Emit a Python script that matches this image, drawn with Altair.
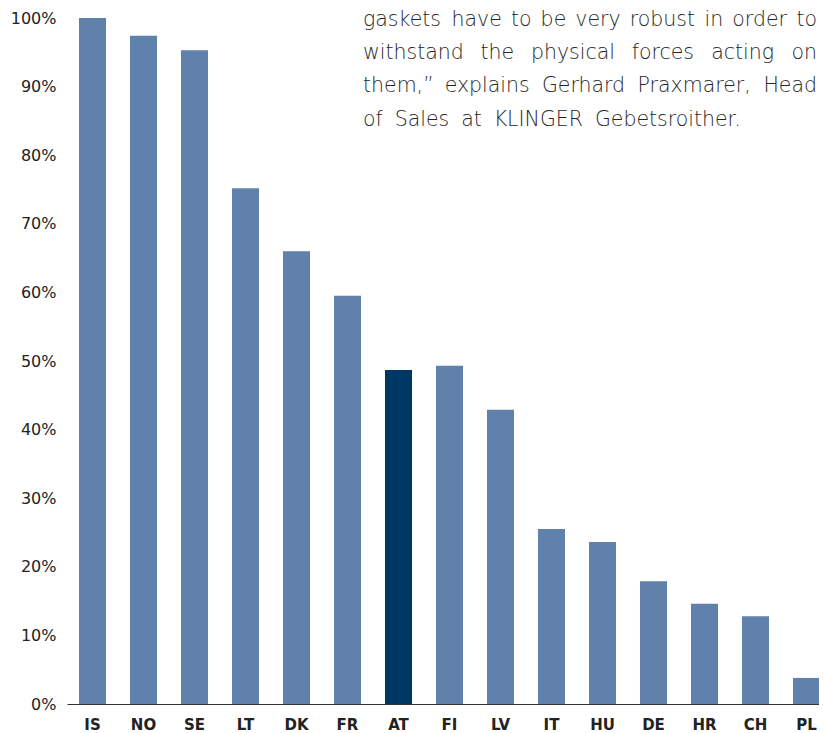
import altair as alt
import pandas as pd

countries = ["IS", "NO", "SE", "LT", "DK", "FR", "AT", "FI", "LV", "IT", "HU", "DE", "HR", "CH", "PL"]
shares = [100.0, 97.4, 95.3, 75.2, 66.0, 59.5, 48.7, 49.3, 42.9, 25.5, 23.6, 17.9, 14.6, 12.8, 3.8]
highlight = "AT"

# annotation text (quote fragment): justified lines, last line ragged
text_lines = [
    "gaskets have to be very robust in order to",
    "withstand the physical forces acting on",
    "them,\u201d explains Gerhard Praxmarer, Head",
    "of Sales at KLINGER Gebetsroither.",
]

# ---- layout of the annotation (page pixels) ----
PLOT_LEFT = 67
PLOT_TOP = 18
TEXT_LEFT = 363
line_right = [817, 817, 817, 743]
line_baseline = [26, 59, 92, 126]
FONT_SIZE = 20.5

# approximate DejaVu Sans advance widths (em) for justification
W = {
    'a': .613, 'b': .635, 'c': .550, 'd': .635, 'e': .615, 'f': .352, 'g': .635, 'h': .634,
    'i': .278, 'j': .278, 'k': .579, 'l': .278, 'm': .974, 'n': .634, 'o': .612, 'p': .635,
    'q': .635, 'r': .411, 's': .521, 't': .392, 'u': .634, 'v': .592, 'w': .818, 'x': .592,
    'y': .592, 'z': .525, ',': .318, '.': .318, '\u201d': .477,
    'G': .775, 'H': .752, 'K': .656, 'L': .557, 'I': .295, 'N': .748, 'E': .632, 'R': .695,
    'P': .603, 'S': .635,
}


def wwidth(word):
    return sum(W.get(ch, .6) for ch in word) * FONT_SIZE


rows = []
for line, base, right in zip(text_lines, line_baseline, line_right):
    words = line.split(" ")
    widths = [wwidth(w) for w in words]
    gap = (right - TEXT_LEFT - sum(widths)) / (len(words) - 1)
    xpos = TEXT_LEFT
    for w, wd in zip(words, widths):
        rows.append({"word": w, "px": xpos - PLOT_LEFT, "py": base - PLOT_TOP})
        xpos += wd + gap
ann = pd.DataFrame(rows)

df = pd.DataFrame({
    "country": countries,
    "share": [s / 100 for s in shares],
    "hl": [c == highlight for c in countries],
})

bars = alt.Chart(df).mark_bar().encode(
    x=alt.X("country:N", sort=countries, title=None,
            scale=alt.Scale(range=[0, 765], paddingInner=0.47, paddingOuter=0.235),
            axis=alt.Axis(labelAngle=0, labelFont="DejaVu Sans", labelFontWeight="bold",
                          labelFontSize=15, labelColor="#222222", labelPadding=13,
                          ticks=False, domainColor="#333333", domainWidth=1.2,
                          labelBaseline="top")),
    y=alt.Y("share:Q", title=None,
            scale=alt.Scale(domain=[0, 1], nice=False),
            axis=alt.Axis(format=".0%", values=[i / 10 for i in range(11)],
                          labelFont="DejaVu Sans", labelFontSize=16, labelColor="#222222",
                          labelPadding=11, ticks=False, domain=False, grid=False)),
    color=alt.Color("hl:N", scale=alt.Scale(domain=[False, True], range=["#6081AB", "#003865"]),
                    legend=None),
)

text = alt.Chart(ann).mark_text(
    align="left", baseline="alphabetic", font="DejaVu Sans", fontSize=FONT_SIZE,
    fontWeight=300, color="#262626"
).encode(
    x=alt.X("px:Q", scale=None),
    y=alt.Y("py:Q", scale=None),
    text="word:N",
)

chart = alt.layer(bars, text).properties(
    width=752, height=686,
    autosize=alt.AutoSizeParams(type="none"),
    padding={"left": 59, "top": 10, "right": 0, "bottom": 29},
).configure_view(stroke=None).configure_axis(grid=False)

chart.save("out.html", embed_options={"renderer": "svg", "actions": False})
